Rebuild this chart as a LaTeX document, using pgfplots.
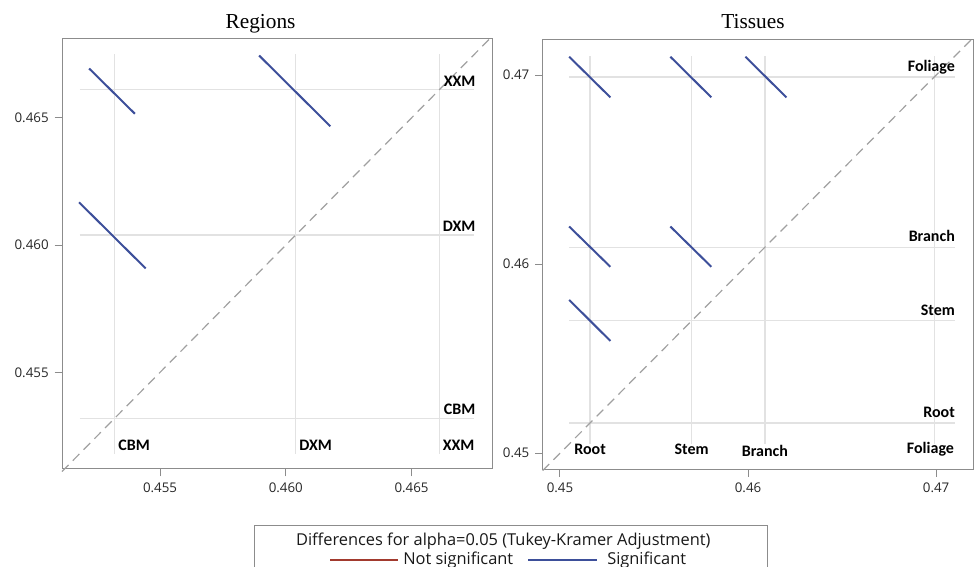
\documentclass[border=0pt]{standalone}
\usepackage{pgfplots}
\pgfplotsset{compat=1.18}
\usepackage{fontspec}
\setmainfont{Open Sans}
\newfontfamily\catfont{Carlito}
\newfontfamily\titfont{Liberation Serif}
\definecolor{sigblue}{HTML}{3D4F9A}
\definecolor{nsred}{HTML}{A23A2E}
\definecolor{framegray}{HTML}{8C8C8C}
\definecolor{gridgray}{HTML}{E2E2E2}
\definecolor{diaggray}{HTML}{A0A0A0}
\tikzset{cat/.style={font=\catfont\bfseries\fontsize{12}{14}\selectfont, text=black, inner sep=0pt}}
\begin{document}
\begin{tikzpicture}
\path[use as bounding box] (0pt,0pt) rectangle (731.25pt,425.25pt);
\pgfplotsset{
  diffo/.style={
    scale only axis,
    anchor=south west,
    axis line style={framegray, line width=0.75pt},
    tick style={framegray, line width=0.75pt},
    tick align=outside,
    major tick length=5.5pt,
    tick pos=left,
    /pgf/number format/assume math mode=true,
    ticklabel style={font=\fontsize{10}{12}\selectfont, text=black!85},
    xticklabel style={yshift=-1pt},
    yticklabel style={xshift=-1pt},
    clip=false,
  },
  grd/.style={gridgray, line width=0.9pt, forget plot},
  seg/.style={sigblue, line width=1.5pt, forget plot},
  dia/.style={diaggray, line width=0.9pt, dash pattern=on 7pt off 4.5pt, forget plot},
}
% ---------------- Regions ----------------
\begin{axis}[diffo,
  at={(46.5pt,73.5pt)}, width=322.5pt, height=322.5pt,
  xmin=0.4511, xmax=0.4682, ymin=0.4512, ymax=0.4681,
  xtick={0.455,0.460,0.465}, ytick={0.455,0.460,0.465},
  xticklabel style={/pgf/number format/.cd, fixed, fixed zerofill, precision=3},
  yticklabel style={/pgf/number format/.cd, fixed, fixed zerofill, precision=3},
]
% reference grid
\addplot[grd] coordinates {(0.4532,0.4518) (0.4532,0.4675)};
\addplot[grd] coordinates {(0.4604,0.4518) (0.4604,0.4675)};
\addplot[grd] coordinates {(0.4661,0.4518) (0.4661,0.4675)};
\addplot[grd] coordinates {(0.4518,0.4532) (0.4675,0.4532)};
\addplot[grd] coordinates {(0.4518,0.4604) (0.4675,0.4604)};
\addplot[grd] coordinates {(0.4518,0.4661) (0.4675,0.4661)};
% diagonal
\addplot[dia] coordinates {(0.4511,0.4511) (0.4682,0.4682)};
% differences
\addplot[seg] coordinates {(0.45218,0.46694) (0.45400,0.46516)};
\addplot[seg] coordinates {(0.45894,0.46745) (0.46177,0.46467)};
\addplot[seg] coordinates {(0.45178,0.46168) (0.45443,0.45908)};
% labels
\node[cat, anchor=west] at (axis cs:0.4532,0.45214) [xshift=2.5pt] {CBM};
\node[cat, anchor=west] at (axis cs:0.4604,0.45214) [xshift=2.5pt] {DXM};
\node[cat, anchor=west] at (axis cs:0.4661,0.45214) [xshift=2.5pt] {XXM};
\node[cat, anchor=base east] at (axis cs:0.46755,0.4532) [yshift=2.8pt] {CBM};
\node[cat, anchor=base east] at (axis cs:0.46755,0.4604) [yshift=2.8pt] {DXM};
\node[cat, anchor=base east] at (axis cs:0.46755,0.4661) [yshift=2.8pt] {XXM};
\end{axis}
% ---------------- Tissues ----------------
\begin{axis}[diffo,
  at={(407pt,73.25pt)}, width=323pt, height=322.5pt,
  xmin=0.44908, xmax=0.47198, ymin=0.44915, ymax=0.47189,
  xtick={0.45,0.46,0.47}, ytick={0.45,0.46,0.47},
  xticklabel style={/pgf/number format/.cd, fixed, fixed zerofill, precision=2},
  yticklabel style={/pgf/number format/.cd, fixed, fixed zerofill, precision=2},
]
\addplot[grd] coordinates {(0.4516,0.4505) (0.4516,0.4710)};
\addplot[grd] coordinates {(0.4570,0.4505) (0.4570,0.4710)};
\addplot[grd] coordinates {(0.4609,0.4505) (0.4609,0.4710)};
\addplot[grd] coordinates {(0.4699,0.4505) (0.4699,0.4710)};
\addplot[grd] coordinates {(0.4505,0.4516) (0.4710,0.4516)};
\addplot[grd] coordinates {(0.4505,0.4570) (0.4710,0.4570)};
\addplot[grd] coordinates {(0.4505,0.4609) (0.4710,0.4609)};
\addplot[grd] coordinates {(0.4505,0.4699) (0.4710,0.4699)};
\addplot[dia] coordinates {(0.44908,0.44908) (0.47189,0.47189)};
\addplot[seg] coordinates {(0.45049,0.47097) (0.45268,0.46882)};
\addplot[seg] coordinates {(0.45587,0.47097) (0.45805,0.46882)};
\addplot[seg] coordinates {(0.45986,0.47097) (0.46204,0.46882)};
\addplot[seg] coordinates {(0.45049,0.46199) (0.45268,0.45986)};
\addplot[seg] coordinates {(0.45587,0.46199) (0.45805,0.45986)};
\addplot[seg] coordinates {(0.45049,0.45811) (0.45268,0.45594)};
\node[cat, anchor=center] at (axis cs:0.4516,0.45023) {Root};
\node[cat, anchor=center] at (axis cs:0.4570,0.45023) {Stem};
\node[cat, anchor=center] at (axis cs:0.4609,0.45010) {Branch};
\node[cat, anchor=center] at (axis cs:0.4697,0.45023) {Foliage};
\node[cat, anchor=base east] at (axis cs:0.47101,0.4516) [yshift=4pt] {Root};
\node[cat, anchor=base east] at (axis cs:0.47101,0.4570) [yshift=4pt] {Stem};
\node[cat, anchor=base east] at (axis cs:0.47101,0.4609) [yshift=4pt] {Branch};
\node[cat, anchor=base east] at (axis cs:0.47101,0.4699) [yshift=4pt] {Foliage};
\end{axis}
% titles
\node[font=\titfont\fontsize{16}{19}\selectfont, anchor=base] at (195.4pt,404pt) {Regions};
\node[font=\titfont\fontsize{16}{19}\selectfont, anchor=base] at (564.75pt,404pt) {Tissues};
% legend
\draw[framegray, line width=0.75pt] (191pt,-3pt) -- (191pt,30.75pt) -- (575.5pt,30.75pt) -- (575.5pt,-3pt);
\node[font=\fontsize{12.3}{14}\selectfont, text=black!90, anchor=base, inner sep=0pt] at (377.5pt,15.75pt) {Differences for alpha=0.05 (Tukey-Kramer Adjustment)};
\draw[nsred, line width=1.5pt] (247.5pt,5.25pt) -- (298.5pt,5.25pt);
\node[font=\fontsize{12.3}{14}\selectfont, text=black!90, anchor=base west, inner sep=0pt] at (302.25pt,1.5pt) {Not significant};
\draw[sigblue, line width=1.5pt] (396pt,5.25pt) -- (447.75pt,5.25pt);
\node[font=\fontsize{12.3}{14}\selectfont, text=black!90, anchor=base west, inner sep=0pt] at (455.25pt,1.5pt) {Significant};
\end{tikzpicture}
\end{document}
